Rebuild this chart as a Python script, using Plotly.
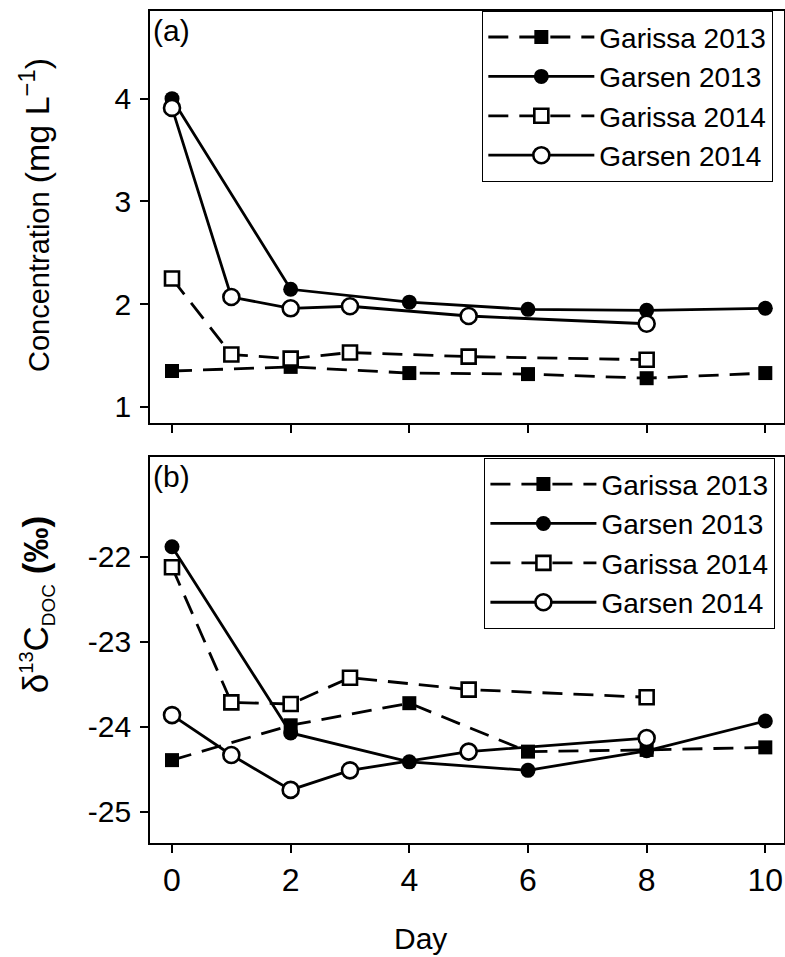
import plotly.graph_objects as go

# ---- data ----
days_2013 = [0, 2, 4, 6, 8, 10]
days_2014 = [0, 1, 2, 3, 5, 8]

conc_garissa_2013 = [1.35, 1.39, 1.33, 1.32, 1.28, 1.33]
conc_garsen_2013 = [4.00, 2.145, 2.02, 1.95, 1.94, 1.96]
conc_garissa_2014 = [2.25, 1.51, 1.47, 1.53, 1.49, 1.46]
conc_garsen_2014 = [3.91, 2.07, 1.96, 1.98, 1.885, 1.81]

d13_garissa_2013 = [-24.39, -23.98, -23.72, -24.29, -24.27, -24.24]
d13_garsen_2013 = [-21.88, -24.07, -24.41, -24.51, -24.28, -23.93]
d13_garissa_2014 = [-22.12, -23.71, -23.73, -23.42, -23.56, -23.65]
d13_garsen_2014 = [-23.86, -24.33, -24.74, -24.51, -24.29, -24.13]

series_names = ["Garissa 2013", "Garsen 2013", "Garissa 2014", "Garsen 2014"]
x_ticks = [0, 2, 4, 6, 8, 10]
top_ticks = [1, 2, 3, 4]
bottom_ticks = [-25, -24, -23, -22]

FONT = "Liberation Sans, Arial, sans-serif"
DASH = "20px,11px"
styles = [
    dict(symbol="square", fill="black", dash=DASH, size=14),
    dict(symbol="circle", fill="black", dash="solid", size=15),
    dict(symbol="square", fill="white", dash=DASH, size=14),
    dict(symbol="circle", fill="white", dash="solid", size=16),
]

fig = go.Figure()

panels = [
    ("y", "legend", [conc_garissa_2013, conc_garsen_2013, conc_garissa_2014, conc_garsen_2014]),
    ("y2", "legend2", [d13_garissa_2013, d13_garsen_2013, d13_garissa_2014, d13_garsen_2014]),
]
for yref, leg, vals in panels:
    for i, (name, v) in enumerate(zip(series_names, vals)):
        st = styles[i]
        xs = days_2013 if i < 2 else days_2014
        fig.add_trace(go.Scatter(
            x=xs, y=v, name=name, mode="lines+markers",
            xaxis="x" if yref == "y" else "x2", yaxis=yref, legend=leg,
            line=dict(color="black", width=2.8, dash=st["dash"]),
            marker=dict(symbol=st["symbol"], size=st["size"], color=st["fill"],
                        line=dict(color="black", width=2.6 if st["fill"] == "white" else 0)),
        ))

axis_common = dict(showline=True, mirror=True, linecolor="black", linewidth=1.8,
                   ticks="outside", ticklen=8, tickwidth=1.5, tickcolor="black",
                   showgrid=False, zeroline=False, automargin=False)

fig.update_layout(
    width=785, height=957,
    margin=dict(l=150, r=1, t=11, b=114, autoexpand=False),
    paper_bgcolor="white", plot_bgcolor="white",
    font=dict(family=FONT, color="black"),
    xaxis=dict(domain=[0, 1], anchor="y", range=[-0.371, 10.315], tickvals=x_ticks,
               showticklabels=False, **axis_common),
    yaxis=dict(domain=[0.5048, 1], anchor="x", range=[0.844, 4.853], tickvals=top_ticks,
               tickfont=dict(size=30), ticklabelstandoff=3, **axis_common),
    xaxis2=dict(domain=[0, 1], anchor="y2", range=[-0.371, 10.315], tickvals=x_ticks,
                tickfont=dict(size=32), **axis_common),
    yaxis2=dict(domain=[0, 0.4639], anchor="x2", range=[-25.365, -20.824], tickvals=bottom_ticks,
                ticktext=[str(t) for t in bottom_ticks],
                tickfont=dict(size=30), ticklabelstandoff=3, **axis_common),
    legend=dict(x=0.5237, y=1, xanchor="left", yanchor="top", font=dict(size=28),
                bordercolor="black", borderwidth=1.3, bgcolor="white", itemwidth=106,
                tracegroupgap=0),
    legend2=dict(x=0.527, y=0.4627, xanchor="left", yanchor="top", font=dict(size=28),
                 bordercolor="black", borderwidth=1.3, bgcolor="white", itemwidth=106,
                 tracegroupgap=0),
    showlegend=True,
)

fig.add_annotation(text="(a)", xref="paper", yref="paper", x=0.002, y=0.999,
                   xanchor="left", yanchor="top", showarrow=False, font=dict(size=30))
fig.add_annotation(text="(b)", xref="paper", yref="paper", x=0.002, y=0.4627,
                   xanchor="left", yanchor="top", showarrow=False, font=dict(size=30))
fig.add_annotation(
    text="Concentration <span style='font-size:34px'>(mg L<sup>−1</sup>)</span>",
    xref="paper", yref="paper", x=-0.183, y=(843 - 215) / 832, textangle=-90,
    xanchor="center", yanchor="middle", showarrow=False, font=dict(size=29))
fig.add_annotation(
    text="δ<sup><span style='font-size:20px'>13</span></sup>C"
         "<sub><span style='font-size:19px'>DOC</span></sub> <b>(‰)</b>",
    xref="paper", yref="paper", x=-0.178, y=(843 - 605) / 832, textangle=-90,
    xanchor="center", yanchor="middle", showarrow=False, font=dict(size=35))
fig.add_annotation(text="Day", xref="paper", yref="paper",
                   x=(420 - 150) / 634, y=(843 - 938) / 832, xanchor="center", yanchor="middle",
                   showarrow=False, font=dict(size=30))

# remove the browser's default 8px body margin so the figure sits at the page origin
fig.write_html("out.html", config={"displayModeBar": False},
               post_script="document.body.style.margin='0px';document.body.style.overflow='hidden';")
